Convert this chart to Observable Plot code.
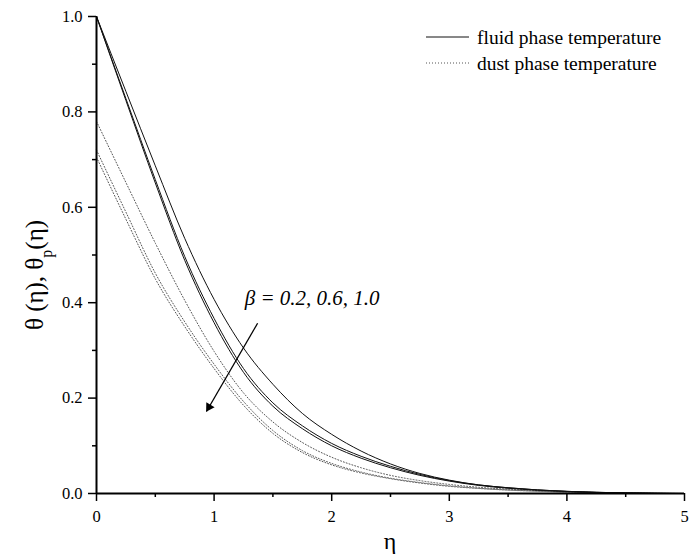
<!DOCTYPE html>
<html>
<head>
<meta charset="utf-8">
<script src="https://cdn.jsdelivr.net/npm/d3@7"></script>
<script src="https://cdn.jsdelivr.net/npm/@observablehq/plot@0.6"></script>
<style>
  html, body { margin: 0; padding: 0; background: #fff; }
  #chart { width: 690px; height: 558px; }
  #chart svg text, #chart svg tspan { font-family: "Liberation Serif", "Times New Roman", serif; }
</style>
</head>
<body>
<div id="chart"></div>
<script>
// η grid
const eta = [0, 0.25, 0.5, 0.75, 1.0, 1.25, 1.5, 1.75, 2.0, 2.25, 2.5, 2.75, 3.0, 3.25, 3.5, 3.75, 4.0, 4.25, 4.5, 4.75, 5.0];

// fluid phase temperature θ(η) for β = 0.2, 0.6, 1.0
const fluid02 = [1.0, 0.843, 0.687, 0.535, 0.407, 0.305, 0.229, 0.168, 0.124, 0.089, 0.062, 0.042, 0.028, 0.018, 0.012, 0.0075, 0.0045, 0.0025, 0.0012, 0.0004, 0];
const fluid06 = [1.0, 0.828, 0.658, 0.497, 0.367, 0.262, 0.19, 0.142, 0.105, 0.078, 0.057, 0.04, 0.027, 0.018, 0.012, 0.0075, 0.0045, 0.0025, 0.0012, 0.0004, 0];
const fluid10 = [1.0, 0.824, 0.651, 0.489, 0.358, 0.254, 0.183, 0.136, 0.100, 0.074, 0.054, 0.038, 0.026, 0.017, 0.011, 0.007, 0.0042, 0.0023, 0.0011, 0.0004, 0];

// dust phase temperature θp(η) for β = 0.2, 0.6, 1.0
const dust02 = [0.78, 0.652, 0.525, 0.405, 0.298, 0.211, 0.15, 0.107, 0.076, 0.054, 0.038, 0.027, 0.019, 0.013, 0.009, 0.006, 0.0035, 0.002, 0.001, 0.0003, 0];
const dust06 = [0.72, 0.59, 0.462, 0.36, 0.271, 0.193, 0.132, 0.09, 0.063, 0.045, 0.032, 0.023, 0.016, 0.011, 0.0075, 0.005, 0.003, 0.0017, 0.0008, 0.0002, 0];
const dust10 = [0.705, 0.575, 0.45, 0.35, 0.262, 0.185, 0.126, 0.086, 0.06, 0.043, 0.031, 0.022, 0.015, 0.0105, 0.007, 0.0047, 0.0028, 0.0016, 0.0008, 0.0002, 0];

const xTicks = [0, 1, 2, 3, 4, 5];
const xMinorTicks = [0.5, 1.5, 2.5, 3.5, 4.5];
const yTicks = [0, 0.2, 0.4, 0.6, 0.8, 1.0];
const yMinorTicks = [0.1, 0.3, 0.5, 0.7, 0.9];

const legendLabels = ["fluid phase temperature", "dust phase temperature"];
const annotationText = ["β = 0.2, 0.6, 1.0"];
const arrowFrom = [1.37, 0.357];
const arrowTo = [0.935, 0.172];
const textAt = [1.26, 0.41];

function rows(values, series) {
  return eta.map((e, i) => ({eta: e, theta: values[i], series}));
}
const fluidRows = [...rows(fluid02, "0.2"), ...rows(fluid06, "0.6"), ...rows(fluid10, "1.0")];
const dustRows = [...rows(dust02, "0.2"), ...rows(dust06, "0.6"), ...rows(dust10, "1.0")];

// arrow: shaft plus a filled triangular head at the tip
const arrowData = [{x1: arrowFrom[0], y1: arrowFrom[1], x2: arrowTo[0], y2: arrowTo[1]}];
const headData = [{x: arrowTo[0] + (arrowFrom[0] - arrowTo[0]) * 0.05, y: arrowTo[1] + (arrowFrom[1] - arrowTo[1]) * 0.05}];

const serif = "Liberation Serif";

const plot = Plot.plot({
  width: 690,
  height: 558,
  marginLeft: 96,
  marginRight: 6,
  marginTop: 16,
  marginBottom: 65,
  x: {domain: [0, 5], label: null},
  y: {domain: [0, 1], label: null},
  style: {fontFamily: serif, fontSize: "16px", background: "#fff", color: "#000", overflow: "visible"},
  marks: [
    Plot.line(dustRows, {x: "eta", y: "theta", z: "series", stroke: "#555", strokeWidth: 1, strokeDasharray: "1,2", curve: "monotone-x"}),
    Plot.line(fluidRows, {x: "eta", y: "theta", z: "series", stroke: "#111", strokeWidth: 1, curve: "monotone-x"}),
    Plot.axisX({ticks: xTicks, tickSize: 8, tickPadding: 9, tickFormat: "d", label: null, strokeWidth: 1.5, fontSize: 16.5}),
    Plot.axisX({ticks: xMinorTicks, tickSize: 4, text: null, label: null, strokeWidth: 1.5}),
    Plot.axisY({ticks: yTicks, tickSize: 8, tickPadding: 6, tickFormat: ".1f", label: null, strokeWidth: 1.5, fontSize: 16.5}),
    Plot.axisY({ticks: yMinorTicks, tickSize: 4, text: null, label: null, strokeWidth: 1.5}),
    Plot.ruleY([0], {stroke: "#000", strokeWidth: 2}),
    Plot.ruleX([0], {stroke: "#000", strokeWidth: 2}),
    Plot.link(arrowData, {x1: "x1", y1: "y1", x2: "x2", y2: "y2", stroke: "#000", strokeWidth: 1.3}),
    Plot.dot(headData, {x: "x", y: "y", symbol: "triangle", r: 3.6, fill: "#000", stroke: "none", rotate: 211}),
    Plot.text(annotationText, {x: () => textAt[0], y: () => textAt[1], text: d => d, textAnchor: "start", fontStyle: "italic", fontSize: 21, fill: "#000"})
  ]
});

document.getElementById("chart").appendChild(plot);

// axis titles and legend
const svg = d3.select(plot);
svg.append("text")
  .attr("x", 390).attr("y", 549)
  .attr("text-anchor", "middle")
  .style("font-size", "24px")
  .text("η");

const yl = svg.append("text")
  .attr("transform", "translate(43,275) rotate(-90)")
  .attr("text-anchor", "middle")
  .style("font-size", "25px");
yl.append("tspan").text("θ (η), θ");
yl.append("tspan").attr("baseline-shift", "sub").style("font-size", "16px").text("p");
yl.append("tspan").text("(η)");

const legend = svg.append("g").style("font-size", "19.5px");
legendLabels.forEach((label, i) => {
  const y = 37 + i * 26;
  legend.append("line")
    .attr("x1", 426).attr("x2", 469).attr("y1", y).attr("y2", y)
    .attr("stroke", i === 0 ? "#111" : "#555").attr("stroke-width", 1)
    .attr("stroke-dasharray", i === 0 ? null : "1,2");
  legend.append("text").attr("x", 477).attr("y", y + 7).attr("text-anchor", "start").text(label);
});

// force the serif face on every text element
svg.selectAll("text, tspan").attr("font-family", serif).style("font-family", "'Liberation Serif', serif");
</script>
</body>
</html>
